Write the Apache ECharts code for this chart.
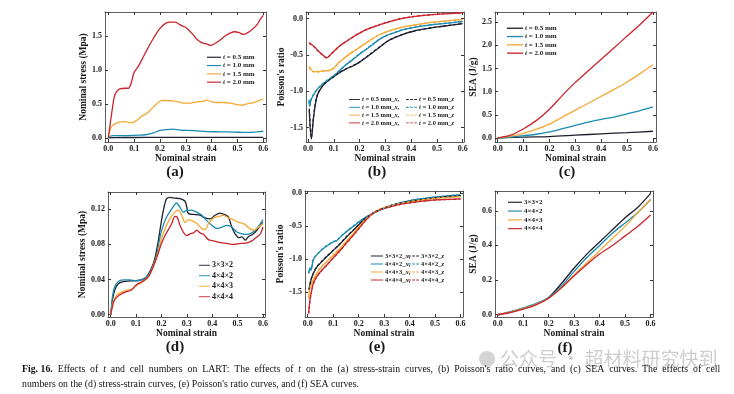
<!DOCTYPE html>
<html><head><meta charset="utf-8">
<script src="https://cdn.jsdelivr.net/npm/echarts@6/dist/echarts.min.js"></script>
<style>html,body{margin:0;padding:0;background:#fff}#c{width:734px;height:394px}</style>
</head><body><div id="c"></div>
<script>
// ---------- tick labels ----------
const xTicks = [0, 0.1, 0.2, 0.3, 0.4, 0.5, 0.6];
const yTicksA = [0, 0.5, 1.0, 1.5];
const yTicksB = [-1.5, -1.0, -0.5, 0];
const yTicksC = [0, 0.5, 1.0, 1.5, 2.0, 2.5];
const yTicksD = [0, 0.04, 0.08, 0.12];
const yTicksE = [-1.5, -1.0, -0.5, 0];
const yTicksF = [0, 0.2, 0.4, 0.6];

// ---------- legend names ----------
const tNames = ['t = 0.5 mm', 't = 1.0 mm', 't = 1.5 mm', 't = 2.0 mm'];
const tNamesX = ['t = 0.5 mm_x,', 't = 1.0 mm_x,', 't = 1.5 mm_x,', 't = 2.0 mm_x,'];
const tNamesZ = ['t = 0.5 mm_z', 't = 1.0 mm_z', 't = 1.5 mm_z', 't = 2.0 mm_z'];
const cellNames = ['3×3×2', '4×4×2', '4×4×3', '4×4×4'];
const cellNamesX = ['3×3×2_x,', '4×4×2_x,', '4×4×3_x,', '4×4×4_x,'];
const cellNamesZ = ['3×3×2_z', '4×4×2_z', '4×4×3_z', '4×4×4_z'];

// ---------- (a) stress-strain, effect of t ----------
const aT05 = [[0,0],[0.02,0.005],[0.1,0.006],[0.2,0.007],[0.3,0.007],[0.4,0.007],[0.5,0.007],[0.6,0.008]];
const aT10 = [[0,0],[0.007,0.025],[0.019,0.035],[0.071,0.035],[0.123,0.04],[0.149,0.05],[0.175,0.074],[0.2,0.11],[0.226,0.123],[0.252,0.128],[0.278,0.113],[0.33,0.108],[0.381,0.093],[0.433,0.09],[0.485,0.085],[0.537,0.08],[0.575,0.09],[0.6,0.098]];
const aT15 = [[0,0],[0.009,0.14],[0.019,0.19],[0.039,0.23],[0.065,0.24],[0.09,0.22],[0.11,0.26],[0.13,0.32],[0.149,0.36],[0.168,0.43],[0.187,0.5],[0.207,0.55],[0.226,0.55],[0.252,0.54],[0.27,0.53],[0.29,0.51],[0.317,0.51],[0.343,0.53],[0.369,0.54],[0.381,0.556],[0.4,0.53],[0.42,0.52],[0.446,0.52],[0.472,0.51],[0.498,0.49],[0.517,0.48],[0.537,0.5],[0.562,0.52],[0.588,0.556],[0.6,0.57]];
const aT20 = [[0,0],[0.013,0.36],[0.023,0.6],[0.032,0.68],[0.045,0.72],[0.065,0.73],[0.078,0.73],[0.088,0.8],[0.1,0.96],[0.116,1.05],[0.13,1.15],[0.149,1.29],[0.168,1.42],[0.187,1.54],[0.2,1.61],[0.22,1.68],[0.24,1.7],[0.259,1.7],[0.278,1.66],[0.297,1.63],[0.31,1.59],[0.33,1.51],[0.343,1.45],[0.362,1.4],[0.381,1.38],[0.397,1.36],[0.414,1.39],[0.433,1.44],[0.453,1.5],[0.472,1.54],[0.488,1.56],[0.504,1.55],[0.524,1.52],[0.537,1.54],[0.556,1.59],[0.575,1.66],[0.588,1.74],[0.6,1.8]];

// ---------- (b) Poisson's ratio, effect of t ----------
const bT05x = [[0.005,-1.26],[0.013,-1.66],[0.022,-1.35],[0.035,-1.07],[0.054,-0.94],[0.073,-0.87],[0.1,-0.8],[0.125,-0.74],[0.15,-0.69],[0.176,-0.65],[0.2,-0.6],[0.228,-0.53],[0.254,-0.46],[0.28,-0.39],[0.305,-0.32],[0.331,-0.27],[0.357,-0.235],[0.382,-0.2],[0.408,-0.175],[0.447,-0.147],[0.485,-0.124],[0.524,-0.106],[0.563,-0.087],[0.6,-0.069]];
const bT05z = [[0.005,-1.24],[0.013,-1.64],[0.022,-1.34],[0.035,-1.06],[0.054,-0.94],[0.073,-0.87],[0.1,-0.8],[0.125,-0.735],[0.15,-0.69],[0.176,-0.645],[0.2,-0.6],[0.228,-0.525],[0.254,-0.455],[0.28,-0.385],[0.305,-0.32],[0.331,-0.27],[0.357,-0.233],[0.382,-0.2],[0.408,-0.174],[0.447,-0.146],[0.485,-0.123],[0.524,-0.105],[0.563,-0.086],[0.6,-0.068]];
const bT10x = [[0.004,-1.12],[0.007,-1.21],[0.012,-1.12],[0.022,-1.05],[0.035,-0.98],[0.054,-0.91],[0.073,-0.86],[0.1,-0.79],[0.125,-0.71],[0.15,-0.63],[0.176,-0.56],[0.2,-0.49],[0.228,-0.42],[0.254,-0.35],[0.28,-0.28],[0.305,-0.235],[0.331,-0.2],[0.357,-0.166],[0.382,-0.143],[0.408,-0.124],[0.447,-0.1],[0.485,-0.083],[0.524,-0.069],[0.563,-0.055],[0.6,-0.041]];
const bT10z = [[0.004,-1.13],[0.007,-1.2],[0.012,-1.11],[0.022,-1.04],[0.035,-0.975],[0.054,-0.905],[0.073,-0.855],[0.1,-0.785],[0.125,-0.705],[0.15,-0.625],[0.176,-0.555],[0.2,-0.485],[0.228,-0.415],[0.254,-0.345],[0.28,-0.278],[0.305,-0.233],[0.331,-0.198],[0.357,-0.165],[0.382,-0.142],[0.408,-0.123],[0.447,-0.099],[0.485,-0.082],[0.524,-0.068],[0.563,-0.054],[0.6,-0.04]];
const bT15x = [[0.004,-0.66],[0.012,-0.7],[0.022,-0.73],[0.041,-0.73],[0.06,-0.72],[0.086,-0.71],[0.1,-0.68],[0.118,-0.61],[0.138,-0.55],[0.164,-0.48],[0.19,-0.42],[0.215,-0.36],[0.24,-0.3],[0.267,-0.24],[0.292,-0.2],[0.318,-0.166],[0.344,-0.138],[0.37,-0.115],[0.408,-0.092],[0.447,-0.069],[0.485,-0.05],[0.524,-0.037],[0.563,-0.023],[0.6,-0.014]];
const bT15z = [[0.004,-0.67],[0.012,-0.71],[0.022,-0.735],[0.041,-0.735],[0.06,-0.725],[0.086,-0.715],[0.1,-0.685],[0.118,-0.615],[0.138,-0.555],[0.164,-0.485],[0.19,-0.425],[0.215,-0.362],[0.24,-0.302],[0.267,-0.242],[0.292,-0.201],[0.318,-0.167],[0.344,-0.139],[0.37,-0.116],[0.408,-0.093],[0.447,-0.07],[0.485,-0.051],[0.524,-0.038],[0.563,-0.024],[0.6,-0.015]];
const bT20x = [[0.004,-0.33],[0.022,-0.38],[0.041,-0.45],[0.06,-0.51],[0.073,-0.54],[0.086,-0.5],[0.106,-0.43],[0.125,-0.37],[0.15,-0.31],[0.176,-0.25],[0.2,-0.2],[0.228,-0.15],[0.254,-0.115],[0.28,-0.083],[0.305,-0.055],[0.331,-0.028],[0.357,-0.005],[0.395,0.018],[0.434,0.037],[0.472,0.05],[0.511,0.06],[0.55,0.069],[0.6,0.078]];
const bT20z = [[0.004,-0.34],[0.022,-0.385],[0.041,-0.455],[0.06,-0.515],[0.073,-0.545],[0.086,-0.505],[0.106,-0.435],[0.125,-0.372],[0.15,-0.312],[0.176,-0.252],[0.2,-0.2],[0.228,-0.15],[0.254,-0.113],[0.28,-0.081],[0.305,-0.053],[0.331,-0.026],[0.357,-0.003],[0.395,0.02],[0.434,0.039],[0.472,0.052],[0.511,0.062],[0.55,0.071],[0.6,0.08]];

// ---------- (c) SEA, effect of t ----------
const cT05 = [[0,0],[0.1,0.02],[0.2,0.03],[0.3,0.06],[0.4,0.09],[0.5,0.115],[0.6,0.145]];
const cT10 = [[0,0],[0.05,0.02],[0.1,0.05],[0.15,0.08],[0.2,0.13],[0.25,0.2],[0.3,0.27],[0.35,0.34],[0.4,0.4],[0.45,0.45],[0.5,0.52],[0.55,0.59],[0.6,0.67]];
const cT15 = [[0,0],[0.05,0.04],[0.1,0.1],[0.15,0.19],[0.2,0.3],[0.25,0.45],[0.3,0.6],[0.35,0.75],[0.4,0.9],[0.45,1.05],[0.5,1.21],[0.55,1.39],[0.6,1.58]];
const cT20 = [[0,0],[0.05,0.06],[0.1,0.2],[0.15,0.38],[0.2,0.62],[0.25,0.92],[0.3,1.2],[0.35,1.45],[0.4,1.7],[0.45,1.95],[0.5,2.2],[0.55,2.45],[0.6,2.72]];

// ---------- (d) stress-strain, cell numbers ----------
const d332 = [[0,0],[0.007,0.017],[0.016,0.028],[0.029,0.035],[0.049,0.0376],[0.075,0.0384],[0.1,0.0388],[0.121,0.0395],[0.141,0.043],[0.161,0.053],[0.174,0.064],[0.187,0.083],[0.2,0.107],[0.21,0.122],[0.22,0.132],[0.233,0.1335],[0.253,0.1325],[0.273,0.132],[0.293,0.129],[0.3,0.122],[0.306,0.115],[0.326,0.114],[0.352,0.1132],[0.372,0.11],[0.392,0.109],[0.411,0.113],[0.431,0.1155],[0.451,0.1136],[0.464,0.111],[0.477,0.0997],[0.49,0.092],[0.504,0.0877],[0.517,0.0884],[0.53,0.0847],[0.543,0.089],[0.56,0.0914],[0.576,0.096],[0.59,0.1016],[0.6,0.105]];
const d442 = [[0,0],[0.007,0.0207],[0.016,0.032],[0.029,0.0376],[0.049,0.0395],[0.075,0.0395],[0.1,0.0384],[0.121,0.0395],[0.141,0.043],[0.161,0.0515],[0.181,0.068],[0.194,0.088],[0.207,0.1016],[0.22,0.111],[0.24,0.12],[0.26,0.127],[0.273,0.122],[0.286,0.1166],[0.3,0.1185],[0.319,0.119],[0.339,0.1166],[0.359,0.113],[0.378,0.107],[0.398,0.1016],[0.418,0.098],[0.438,0.0997],[0.458,0.1016],[0.477,0.0997],[0.497,0.094],[0.517,0.092],[0.537,0.0914],[0.556,0.093],[0.576,0.098],[0.59,0.1035],[0.6,0.108]];
const d443 = [[0,0],[0.007,0.0113],[0.016,0.0188],[0.029,0.0237],[0.055,0.027],[0.082,0.029],[0.1,0.0327],[0.128,0.0376],[0.148,0.043],[0.167,0.0546],[0.187,0.0715],[0.2,0.0865],[0.214,0.0978],[0.233,0.109],[0.253,0.1166],[0.266,0.119],[0.28,0.113],[0.293,0.105],[0.306,0.108],[0.319,0.107],[0.339,0.104],[0.359,0.098],[0.372,0.0967],[0.385,0.1035],[0.405,0.11],[0.425,0.1117],[0.444,0.113],[0.464,0.11],[0.484,0.108],[0.504,0.105],[0.524,0.1035],[0.543,0.099],[0.563,0.096],[0.583,0.0997],[0.6,0.1035]];
const d444 = [[0,0],[0.007,0.0094],[0.016,0.017],[0.036,0.0226],[0.062,0.0263],[0.082,0.028],[0.1,0.0339],[0.128,0.0384],[0.148,0.043],[0.167,0.054],[0.187,0.0696],[0.2,0.081],[0.214,0.09],[0.227,0.0967],[0.24,0.1035],[0.253,0.1117],[0.262,0.111],[0.273,0.1016],[0.286,0.094],[0.3,0.09],[0.313,0.092],[0.326,0.093],[0.339,0.096],[0.352,0.093],[0.365,0.0914],[0.385,0.0854],[0.405,0.0839],[0.431,0.082],[0.458,0.081],[0.484,0.08],[0.51,0.081],[0.537,0.0816],[0.556,0.0839],[0.576,0.0884],[0.59,0.092],[0.6,0.0997]];

// ---------- (e) Poisson's ratio, cell numbers ----------
const e332x = [[0.005,-1.47],[0.013,-1.32],[0.022,-1.22],[0.035,-1.125],[0.055,-1.04],[0.075,-0.96],[0.1,-0.87],[0.127,-0.77],[0.153,-0.66],[0.18,-0.56],[0.206,-0.456],[0.232,-0.365],[0.258,-0.3],[0.278,-0.26],[0.297,-0.228],[0.324,-0.19],[0.363,-0.15],[0.402,-0.12],[0.441,-0.096],[0.481,-0.076],[0.52,-0.06],[0.559,-0.046],[0.6,-0.035]];
const e332z = [[0.005,-1.46],[0.013,-1.31],[0.022,-1.215],[0.035,-1.12],[0.055,-1.035],[0.075,-0.955],[0.1,-0.865],[0.127,-0.765],[0.153,-0.655],[0.18,-0.555],[0.206,-0.452],[0.232,-0.362],[0.258,-0.298],[0.278,-0.258],[0.297,-0.226],[0.324,-0.188],[0.363,-0.149],[0.402,-0.119],[0.441,-0.095],[0.481,-0.075],[0.52,-0.059],[0.559,-0.045],[0.6,-0.034]];
const e442x = [[0.004,-1.22],[0.009,-1.14],[0.013,-1.17],[0.022,-1.01],[0.035,-0.94],[0.055,-0.86],[0.075,-0.8],[0.1,-0.74],[0.114,-0.72],[0.127,-0.67],[0.153,-0.58],[0.18,-0.5],[0.206,-0.42],[0.232,-0.355],[0.258,-0.3],[0.284,-0.253],[0.324,-0.19],[0.363,-0.147],[0.402,-0.11],[0.441,-0.086],[0.481,-0.066],[0.52,-0.05],[0.559,-0.035],[0.6,-0.025]];
const e442z = [[0.004,-1.21],[0.009,-1.13],[0.013,-1.16],[0.022,-1.005],[0.035,-0.935],[0.055,-0.855],[0.075,-0.795],[0.1,-0.735],[0.114,-0.715],[0.127,-0.665],[0.153,-0.575],[0.18,-0.495],[0.206,-0.417],[0.232,-0.352],[0.258,-0.298],[0.284,-0.251],[0.324,-0.189],[0.363,-0.146],[0.402,-0.109],[0.441,-0.085],[0.481,-0.065],[0.52,-0.049],[0.559,-0.034],[0.6,-0.024]];
const e443x = [[0.004,-1.6],[0.009,-1.44],[0.022,-1.32],[0.035,-1.22],[0.055,-1.115],[0.075,-1.04],[0.1,-0.94],[0.127,-0.84],[0.153,-0.725],[0.18,-0.61],[0.206,-0.49],[0.232,-0.38],[0.258,-0.294],[0.284,-0.243],[0.324,-0.19],[0.363,-0.157],[0.402,-0.127],[0.441,-0.106],[0.481,-0.086],[0.52,-0.071],[0.559,-0.06],[0.6,-0.05]];
const e443z = [[0.004,-1.59],[0.009,-1.43],[0.022,-1.31],[0.035,-1.215],[0.055,-1.11],[0.075,-1.035],[0.1,-0.935],[0.127,-0.835],[0.153,-0.72],[0.18,-0.605],[0.206,-0.487],[0.232,-0.378],[0.258,-0.292],[0.284,-0.242],[0.324,-0.189],[0.363,-0.156],[0.402,-0.126],[0.441,-0.105],[0.481,-0.085],[0.52,-0.07],[0.559,-0.059],[0.6,-0.049]];
const e444x = [[0.004,-1.82],[0.009,-1.62],[0.016,-1.47],[0.022,-1.37],[0.035,-1.27],[0.055,-1.17],[0.075,-1.09],[0.1,-0.98],[0.127,-0.87],[0.153,-0.75],[0.18,-0.63],[0.206,-0.51],[0.232,-0.39],[0.258,-0.3],[0.284,-0.248],[0.324,-0.203],[0.363,-0.167],[0.402,-0.142],[0.441,-0.122],[0.481,-0.106],[0.52,-0.096],[0.559,-0.091],[0.6,-0.086]];
const e444z = [[0.004,-1.83],[0.009,-1.63],[0.016,-1.475],[0.022,-1.375],[0.035,-1.275],[0.055,-1.175],[0.075,-1.095],[0.1,-0.985],[0.127,-0.875],[0.153,-0.755],[0.18,-0.635],[0.206,-0.513],[0.232,-0.392],[0.258,-0.302],[0.284,-0.25],[0.324,-0.205],[0.363,-0.169],[0.402,-0.144],[0.441,-0.124],[0.481,-0.108],[0.52,-0.098],[0.559,-0.093],[0.6,-0.088]];

// ---------- (f) SEA, cell numbers ----------
const f332 = [[0,0],[0.05,0.015],[0.1,0.035],[0.15,0.06],[0.2,0.1],[0.25,0.18],[0.3,0.27],[0.35,0.35],[0.4,0.42],[0.45,0.49],[0.5,0.56],[0.55,0.62],[0.6,0.7]];
const f442 = [[0,0],[0.05,0.018],[0.1,0.04],[0.15,0.065],[0.2,0.1],[0.25,0.165],[0.3,0.25],[0.35,0.33],[0.4,0.4],[0.45,0.47],[0.5,0.53],[0.55,0.59],[0.6,0.665]];
const f443 = [[0,0],[0.05,0.015],[0.1,0.035],[0.15,0.06],[0.2,0.095],[0.25,0.155],[0.3,0.23],[0.35,0.3],[0.4,0.37],[0.45,0.44],[0.5,0.51],[0.55,0.59],[0.6,0.665]];
const f444 = [[0,0],[0.05,0.013],[0.1,0.032],[0.15,0.057],[0.2,0.095],[0.25,0.155],[0.3,0.225],[0.35,0.29],[0.4,0.35],[0.45,0.4],[0.5,0.455],[0.55,0.51],[0.6,0.575]];

// ---------- styles / layout ----------
const COLORS = ['#1f2030', '#1a8bb0', '#f5a935', '#c9242c'];
const FONT = 'Liberation Serif';
const INK = '#1a1a1a';
const SOLID_ICON = 'path://M0,0H12V1H0Z';
const DASH_ICON = 'path://M0,0H3V1H0ZM4.5,0H7.5V1H4.5ZM9,0H12V1H9Z';

const panels = [
  {grid:{left:105,top:12,width:161,height:130}, x:[-0.0128,0.6105], y:[-0.06,1.85], yt:yTicksA, dec:1, yName:'Nominal stress (Mpa)', yGap:14},
  {grid:{left:306,top:12,width:158,height:130}, x:[-0.0077,0.605], y:[-1.70,0.09], yt:yTicksB, dec:1, yName:"Poisson's ratio", yGap:16},
  {grid:{left:495,top:12,width:161,height:130}, x:[-0.0105,0.6116], y:[-0.087,2.72], yt:yTicksC, dec:1, yName:'SEA (J/g)', yGap:13},
  {grid:{left:108,top:192,width:157,height:125}, x:[-0.0107,0.608], y:[-0.0026,0.1395], yt:yTicksD, dec:2, yName:'Nominal stress (Mpa)', yGap:18},
  {grid:{left:305,top:191,width:158,height:126}, x:[-0.0106,0.6094], y:[-1.88,0.035], yt:yTicksE, dec:1, yName:"Poisson's ratio", yGap:16},
  {grid:{left:495,top:191,width:158,height:126}, x:[-0.0106,0.6094], y:[-0.013,0.714], yt:yTicksF, dec:1, yName:'SEA (J/g)', yGap:13}
];

const grids = [], xAxes = [], yAxes = [];
const lineAx = {show:true, onZero:false, lineStyle:{color:'#333', width:0.8}};
panels.forEach((p, i) => {
  grids.push(Object.assign({containLabel:false}, p.grid));
  xAxes.push({type:'value', gridIndex:i, position:'bottom', min:p.x[0], max:p.x[1],
    axisLine:lineAx, splitLine:{show:false},
    axisTick:{inside:true, length:3, customValues:xTicks, lineStyle:{color:'#333'}},
    axisLabel:{customValues:xTicks, margin:3, formatter:v=>v.toFixed(1), fontFamily:FONT, fontWeight:'bold', fontSize:8, color:INK},
    name:'Nominal strain', nameLocation:'middle', nameGap:12,
    nameTextStyle:{fontFamily:FONT, fontWeight:'bold', fontSize:9.5, color:INK}});
  xAxes.push({type:'value', gridIndex:i, position:'top', min:p.x[0], max:p.x[1],
    axisLine:lineAx, splitLine:{show:false},
    axisTick:{inside:true, length:3, customValues:xTicks, lineStyle:{color:'#333'}},
    axisLabel:{show:false}});
  yAxes.push({type:'value', gridIndex:i, position:'left', min:p.y[0], max:p.y[1],
    axisLine:lineAx, splitLine:{show:false},
    axisTick:{inside:true, length:3, customValues:p.yt, lineStyle:{color:'#333'}},
    axisLabel:{customValues:p.yt, margin:3, formatter:v=>v.toFixed(p.dec), fontFamily:FONT, fontWeight:'bold', fontSize:8, color:INK},
    name:p.yName, nameLocation:'middle', nameGap:p.yGap,
    nameTextStyle:{fontFamily:FONT, fontWeight:'bold', fontSize:9.5, color:INK}});
  yAxes.push({type:'value', gridIndex:i, position:'right', min:p.y[0], max:p.y[1],
    axisLine:lineAx, splitLine:{show:false},
    axisTick:{inside:true, length:3, customValues:p.yt, lineStyle:{color:'#333'}},
    axisLabel:{show:false}});
});

const series = [];
function addLine(name, data, color, panel, dashed) {
  series.push({type:'line', name:name, data:data, xAxisIndex:panel*2, yAxisIndex:panel*2,
    showSymbol:false, symbol:'none', smooth:0.3, animation:false, z: dashed ? 3 : 2,
    lineStyle:{color:color, width:1.3, type: dashed ? [3,2] : 'solid'}, itemStyle:{color:color}});
}
[aT05, aT10, aT15, aT20].forEach((d, k) => addLine(tNames[k], d, COLORS[k], 0, false));
[bT05x, bT10x, bT15x, bT20x].forEach((d, k) => addLine(tNamesX[k], d, COLORS[k], 1, false));
[bT05z, bT10z, bT15z, bT20z].forEach((d, k) => addLine(tNamesZ[k], d, COLORS[k], 1, true));
[cT05, cT10, cT15, cT20].forEach((d, k) => addLine(tNames[k], d, COLORS[k], 2, false));
[d332, d442, d443, d444].forEach((d, k) => addLine(cellNames[k], d, COLORS[k], 3, false));
[e332x, e442x, e443x, e444x].forEach((d, k) => addLine(cellNamesX[k], d, COLORS[k], 4, false));
[e332z, e442z, e443z, e444z].forEach((d, k) => addLine(cellNamesZ[k], d, COLORS[k], 4, true));
[f332, f442, f443, f444].forEach((d, k) => addLine(cellNames[k], d, COLORS[k], 5, false));

function fmt(name) {
  return name.replace(/^t /, '{i|t} ').replace(/_x,$/, '_{i|x},').replace(/_z$/, '_{i|z}');
}
function legend(names, left, top, w, gap, fs, dashed) {
  return {data:names, orient:'vertical', left:left, top:top, padding:0, itemGap:gap,
    itemWidth:w, itemHeight:1.5, icon: dashed ? DASH_ICON : SOLID_ICON, selectedMode:false, formatter:fmt,
    textStyle:{fontFamily:FONT, fontWeight:'bold', fontSize:fs, lineHeight:fs+0.5, color:INK, padding:[0,0,0,-3],
      rich:{i:{fontFamily:FONT, fontWeight:'bold', fontStyle:'italic', fontSize:fs, color:INK}}}};
}
const legends = [
  legend(tNames, 207, 53.5, 14, 0.8, 7, false),
  legend(tNamesX, 349, 96, 11, 0.8, 6.5, false),
  legend(tNamesZ, 406, 96, 11, 0.8, 6.5, true),
  legend(tNames, 507, 24.5, 16, 0.8, 7, false),
  legend(cellNames, 199, 261, 11, 2, 8, false),
  legend(cellNamesX, 371, 252.5, 12, 1, 6.5, false),
  legend(cellNamesZ, 408, 252.5, 11, 1, 6.5, true),
  legend(cellNames, 508, 198.5, 14, 1.3, 7, false)
];

const panelLetters = [['(a)',175,172],['(b)',377,172],['(c)',567,172],['(d)',175,347],['(e)',377,347],['(f)',565,348]];
const graphics = panelLetters.map(l => ({type:'text', x:l[1], y:l[2],
  style:{text:l[0], fontFamily:FONT, fontWeight:'bold', fontSize:15, fill:INK, align:'center', verticalAlign:'middle'}}));

// watermark
graphics.push({type:'circle', shape:{cx:487, cy:359, r:8}, style:{fill:'#d4d4d4'}, z:0});
graphics.push({type:'text', x:500, y:359, z:0, style:{text:'公众号 · 超材料研究快到', fontFamily:'Noto Sans CJK SC',
  fontSize:19, fill:'#cdcdcd', align:'left', verticalAlign:'middle'}});

// caption (first line is justified in the original, so wider word spaces)
const capRich = {b:{fontFamily:FONT, fontWeight:'bold', fontSize:9.8, fill:'#111'},
                 i:{fontFamily:FONT, fontStyle:'italic', fontSize:9.8, fill:'#111'}};
const cap1 = "{b|Fig. 16.} Effects of {i|t} and cell numbers on LART: The effects of {i|t} on the (a) stress-strain curves, (b) Poisson's ratio curves, and (c) SEA curves. The effects of cell";
graphics.push({type:'text', x:22, y:369, z:5, style:{
  text: cap1.replace(/ (?![^{]*\})/g, '\u2002'),
  fontFamily:FONT, fontSize:9.8, fill:'#111', verticalAlign:'middle', rich:capRich}});
graphics.push({type:'text', x:22, y:384, z:5, style:{
  text:"numbers on the (d) stress-strain curves, (e) Poisson's ratio curves, and (f) SEA curves.",
  fontFamily:FONT, fontSize:9.8, fill:'#111', verticalAlign:'middle'}});

const chart = echarts.init(document.getElementById('c'), null, {renderer:'canvas'});
chart.setOption({
  animation:false, backgroundColor:'#fff',
  grid:grids, xAxis:xAxes, yAxis:yAxes, series:series, legend:legends, graphic:graphics
});
</script></body></html>
